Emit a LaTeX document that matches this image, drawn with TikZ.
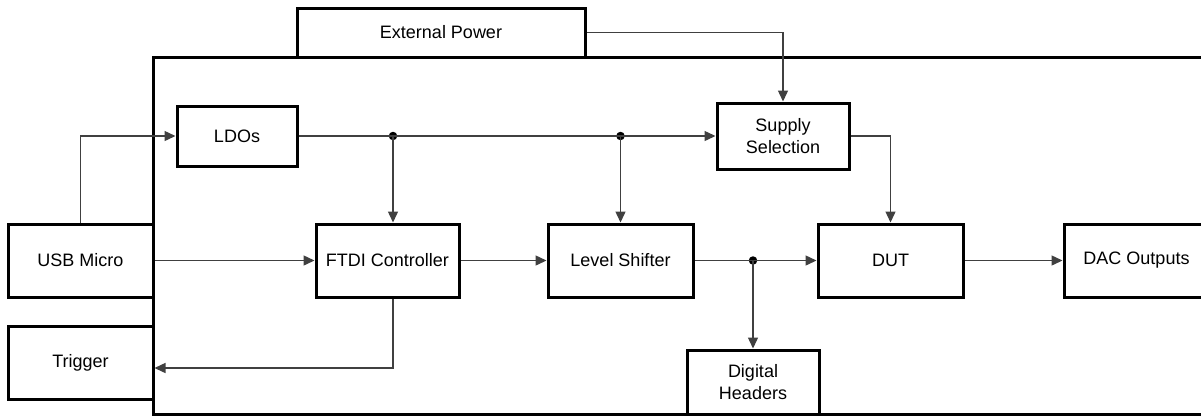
\documentclass[tikz,border=0pt]{standalone}
\usepackage{fontspec}
\setmainfont{Liberation Sans}
\usetikzlibrary{arrows.meta}
\definecolor{conncol}{HTML}{404040}
\tikzset{
  blk/.style={draw=black, line width=3pt, inner sep=0pt, align=center, font=\fontsize{18}{22}\selectfont},
  conn/.style={draw=conncol, line width=1.4pt, -{Triangle[length=11pt,width=10pt]}},
  wire/.style={draw=conncol, line width=1.4pt},
  dotn/.style={circle, fill=black, inner sep=0pt, minimum size=8.5pt}
}
\begin{document}
\begin{tikzpicture}[x=1pt,y=-1pt]
\useasboundingbox (0,0) rectangle (1201,416);
% board outline
\draw[line width=3pt] (1210,57) -- (153,57) -- (153,414) -- (1210,414);
% blocks
\node[blk, minimum width=288pt, minimum height=49pt, fill=white] (ext) at (441,32.5) {External Power};
\node[blk, minimum width=120pt, minimum height=60pt] (ldo) at (237,136) {LDOs};
\node[blk, minimum width=132pt, minimum height=66pt] (sup) at (783,136) {Supply\\Selection};
\node[blk, minimum width=145pt, minimum height=73pt] (usb) at (80.5,260.5) {USB Micro};
\node[blk, minimum width=145pt, minimum height=73pt] (trig) at (80.5,362.5) {Trigger};
\node[blk, minimum width=143pt, minimum height=73pt] (ftdi) at (387.5,260.5) {FTDI Controller};
\node[blk, minimum width=145pt, minimum height=73pt] (ls) at (620.5,260.5) {Level Shifter};
\node[blk, minimum width=145pt, minimum height=73pt] (dut) at (890.5,260.5) {DUT};
\node[blk, minimum width=145pt, minimum height=73pt] (dac) at (1136.5,260.5) {DAC Outputs};
\node[blk, minimum width=132pt, minimum height=64pt] (dh) at (753,382) {Digital\\Headers};
% junctions
\node[dotn] (j1) at (393,136) {};
\node[dotn] (j2) at (620.5,136) {};
\node[dotn] (j3) at (753,260.5) {};
% connectors
\draw[conn] (usb.north) |- (ldo.west);
\draw[conn] (usb.east) -- (ftdi.west);
\draw[wire] (ldo.east) -- (j1.center);
\draw[wire] (j1.center) -- (j2.center);
\draw[conn] (j2.center) -- (sup.west);
\draw[conn] (j1.center) -- (j1 |- ftdi.north);
\draw[conn] (j2.center) -- (ls.north);
\draw[conn] (ext.east) -| (sup.north);
\draw[conn] (sup.east) -| (dut.north);
\draw[conn] (ftdi.east) -- (ls.west);
\draw[wire] (ls.east) -- (j3.center);
\draw[conn] (j3.center) -- (dut.west);
\draw[conn] (j3.center) -- (dh.north);
\draw[conn] (dut.east) -- (dac.west);
\draw[conn] (j1 |- ftdi.south) |- ([yshift=-5.5pt]trig.east);
\end{tikzpicture}
\end{document}
